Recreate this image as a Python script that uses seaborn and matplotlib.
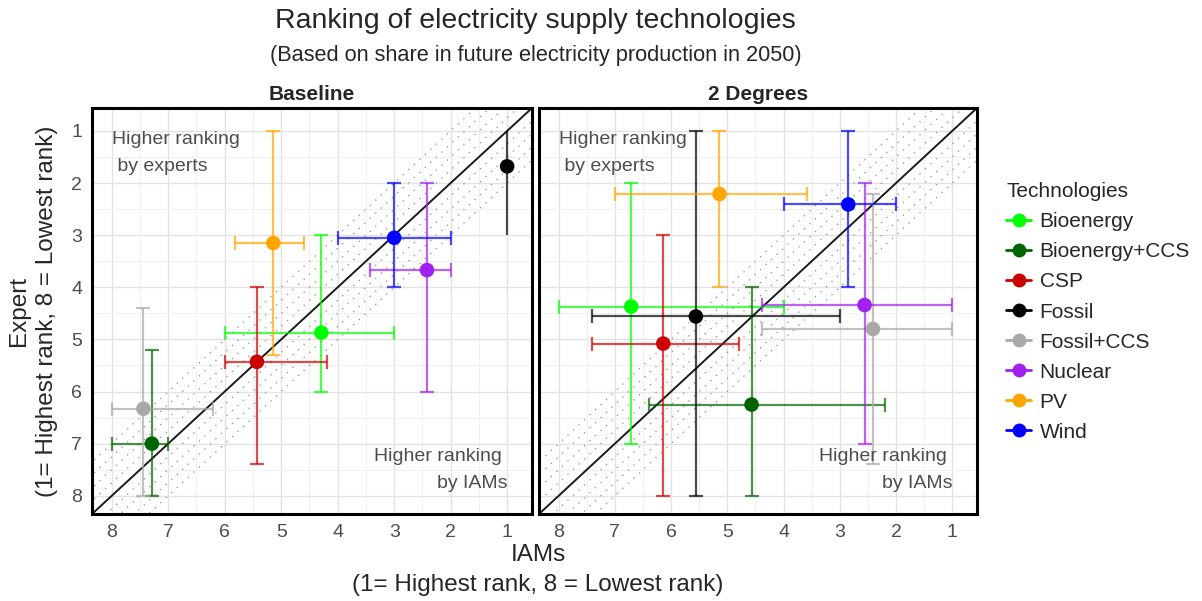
import matplotlib
matplotlib.use("Agg")
import matplotlib.pyplot as plt
from matplotlib.lines import Line2D
from matplotlib.ticker import MultipleLocator
import numpy as np
import pandas as pd
import seaborn as sns

sns.set_theme(style="white")
plt.rcParams["font.family"] = ["Liberation Sans", "DejaVu Sans"]

technologies = ["Bioenergy", "Bioenergy+CCS", "CSP", "Fossil",
                "Fossil+CCS", "Nuclear", "PV", "Wind"]
colors = ["#00FF00", "#006400", "#CD0000", "#000000",
          "#A9A9A9", "#A020F0", "#FFA500", "#0000FF"]

# Baseline scenario: median rank and range (IAMs on x, experts on y)
iam_base = [4.29, 7.29, 5.43, 1.00, 7.44, 2.42, 5.14, 3.00]
iam_base_lo = [3.00, 7.00, 4.19, 1.00, 6.20, 2.00, 4.60, 2.00]
iam_base_hi = [6.00, 8.00, 6.00, 1.00, 8.00, 3.42, 5.81, 4.00]
expert_base = [4.87, 7.00, 5.43, 1.68, 6.33, 3.67, 3.15, 3.05]
expert_base_lo = [3.00, 5.20, 4.00, 1.00, 4.39, 2.00, 1.00, 2.00]
expert_base_hi = [6.00, 8.00, 7.39, 3.00, 8.00, 6.00, 5.29, 4.00]

# 2 Degrees scenario
iam_2d = [6.71, 4.57, 6.14, 5.56, 2.41, 2.56, 5.14, 2.85]
iam_2d_lo = [4.00, 2.19, 4.79, 3.00, 1.00, 1.00, 3.59, 2.00]
iam_2d_hi = [8.00, 6.39, 7.41, 7.41, 4.39, 4.39, 7.00, 4.00]
expert_2d = [4.37, 6.25, 5.08, 4.56, 4.80, 4.34, 2.21, 2.41]
expert_2d_lo = [2.00, 4.00, 3.00, 1.00, 2.21, 2.00, 1.00, 1.00]
expert_2d_hi = [7.00, 8.00, 8.00, 8.00, 7.39, 7.00, 4.00, 4.00]

ranks = [1, 2, 3, 4, 5, 6, 7, 8]
band_offsets = [-1.0, -0.75, -0.5, -0.25, 0.25, 0.5, 0.75, 1.0]

scenarios = {
    "Baseline": (iam_base, iam_base_lo, iam_base_hi,
                 expert_base, expert_base_lo, expert_base_hi),
    "2 Degrees": (iam_2d, iam_2d_lo, iam_2d_hi,
                  expert_2d, expert_2d_lo, expert_2d_hi),
}

W, H = 1202, 601
fig = plt.figure(figsize=(W / 100, H / 100), dpi=100)
fig.patch.set_facecolor("white")

panel_px = {"Baseline": (92, 108, 440, 406), "2 Degrees": (539, 108, 438, 406)}
palette = dict(zip(technologies, colors))
lim_lo, lim_hi = 0.56, 8.35
label_grey = "#4D4D4D"

for i, (name, (ix, ixl, ixh, ey, eyl, eyh)) in enumerate(scenarios.items()):
    x0, y0, w, h = panel_px[name]
    ax = fig.add_axes([x0 / W, 1 - (y0 + h) / H, w / W, h / H])
    df = pd.DataFrame({"tech": technologies, "iam": ix, "expert": ey,
                       "iam_lo": ixl, "iam_hi": ixh,
                       "exp_lo": eyl, "exp_hi": eyh})

    ax.set_xlim(lim_hi, lim_lo)
    ax.set_ylim(lim_hi, lim_lo)
    ax.xaxis.set_major_locator(MultipleLocator(1))
    ax.yaxis.set_major_locator(MultipleLocator(1))
    ax.xaxis.set_minor_locator(MultipleLocator(0.5))
    ax.yaxis.set_minor_locator(MultipleLocator(0.5))
    ax.grid(which="major", color="#E3E3E3", lw=1.0, zorder=0)
    ax.grid(which="minor", color="#F0F0F0", lw=0.7, zorder=0)
    ax.set_axisbelow(True)

    # agreement line and tolerance band
    diag = np.array([0.0, 9.0])
    for off in band_offsets:
        ax.plot(diag, diag + off, color="#8C8C8C", lw=0.9,
                ls=(0, (1, 5)), zorder=2)
    ax.plot(diag, diag, color="#1A1A1A", lw=1.4, zorder=2)

    for _, r in df.iterrows():
        c = palette[r["tech"]]
        cap = 0 if (r["iam_lo"] == r["iam_hi"]) else 5
        ax.errorbar(r["iam"], r["expert"],
                    yerr=[[r["expert"] - r["exp_lo"]], [r["exp_hi"] - r["expert"]]],
                    fmt="none", ecolor=c, elinewidth=1.6, capsize=cap,
                    capthick=1.6, alpha=0.7, zorder=3)
        if r["iam_lo"] != r["iam_hi"]:
            ax.errorbar(r["iam"], r["expert"],
                        xerr=[[r["iam"] - r["iam_lo"]], [r["iam_hi"] - r["iam"]]],
                        fmt="none", ecolor=c, elinewidth=1.6, capsize=5,
                        capthick=1.6, alpha=0.7, zorder=3)

    sns.scatterplot(data=df, x="iam", y="expert", hue="tech",
                    hue_order=technologies, palette=palette, s=110,
                    edgecolor="none", linewidth=0, legend=False,
                    ax=ax, zorder=5)

    ax.text(8.0, 1.0, "Higher ranking\n by experts", ha="left", va="top",
            fontsize=14, color=label_grey, linespacing=1.8, zorder=6)
    ax.text(1.0, 7.93, "Higher ranking \nby IAMs", ha="right", va="bottom",
            fontsize=14, color=label_grey, linespacing=1.8, zorder=6)

    ax.set_xticks(ranks)
    ax.set_yticks(ranks)
    ax.set_xticklabels([str(v) for v in ranks])
    if i == 0:
        ax.set_yticklabels([str(v) for v in ranks])
    else:
        ax.set_yticklabels([])
        ax.tick_params(axis="y", which="major", length=0)
    ax.tick_params(axis="both", which="major", direction="out", length=4,
                   width=1, color="#333333", labelcolor=label_grey,
                   labelsize=14, pad=3)
    ax.tick_params(axis="both", which="minor", length=0)
    ax.set_xlabel("")
    ax.set_ylabel("")
    for sp in ax.spines.values():
        sp.set_visible(True)
        sp.set_color("black")
        sp.set_linewidth(2.2)
    ax.set_title(name, fontsize=15, fontweight="bold", pad=6)

fig.text(535 / W, 1 - 21 / H, "Ranking of electricity supply technologies",
         ha="center", va="center", fontsize=20.5)
fig.text(536 / W, 1 - 56 / H,
         "(Based on share in future electricity production in 2050)",
         ha="center", va="center", fontsize=15.7)
fig.text(538 / W, 1 - 570 / H, "IAMs\n(1= Highest rank, 8 = Lowest rank)",
         ha="center", va="center", fontsize=17.5, linespacing=1.43)
fig.text(33 / W, 1 - 311 / H, "Expert\n(1= Highest rank, 8 = Lowest rank)",
         ha="center", va="center", rotation=90, fontsize=17.5, linespacing=1.4)

handles = [Line2D([0], [0], color=c, lw=2, marker="o", markersize=9)
           for c in colors]
leg = fig.legend(handles, technologies, title="Technologies",
                 loc="upper left", bbox_to_anchor=(998 / W, 1 - 174 / H),
                 frameon=False, fontsize=15, title_fontsize=15,
                 handlelength=1.2, handletextpad=0.4, labelspacing=0.53,
                 borderaxespad=0)
leg._legend_box.align = "left"

fig.savefig("out.png", dpi=100)
